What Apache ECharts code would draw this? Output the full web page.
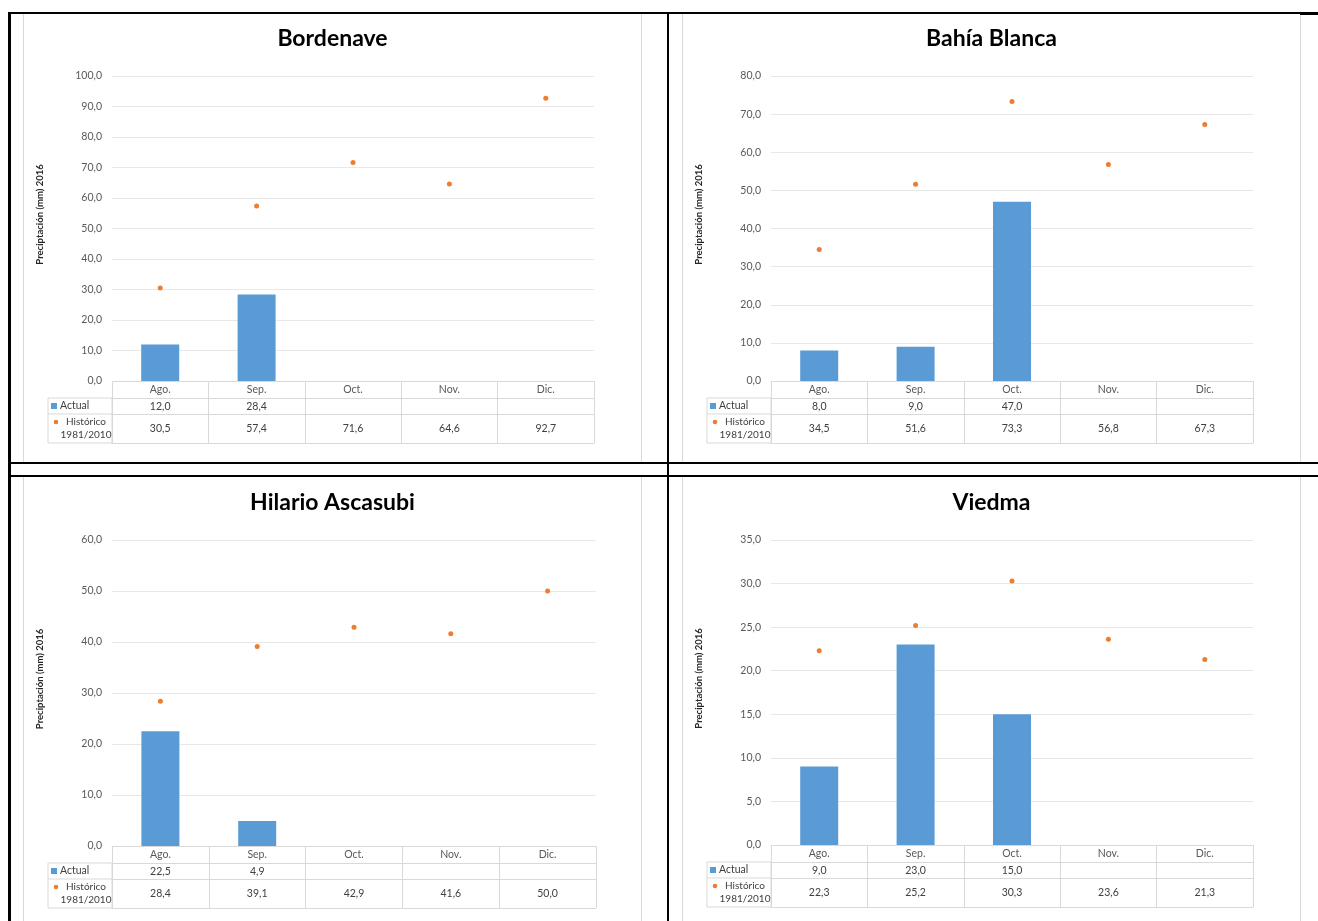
<!DOCTYPE html>
<html><head><meta charset="utf-8">
<script src="https://cdn.jsdelivr.net/npm/echarts@6/dist/echarts.min.js"></script>
<style>
html,body{margin:0;padding:0;background:#fff;width:1318px;height:921px;overflow:hidden;position:relative}
.bl{position:absolute;background:#000;z-index:10}
.box{position:absolute;border:1px solid #d9d9d9;box-sizing:border-box;background:#fff}
</style></head><body>
<div class="box" id="c0" style="left:23px;top:12px;width:619px;height:451px"></div>
<div class="box" id="c1" style="left:682px;top:12px;width:619px;height:451px"></div>
<div class="box" id="c2" style="left:23px;top:476px;width:619px;height:447px"></div>
<div class="box" id="c3" style="left:682px;top:476px;width:619px;height:447px"></div>
<div class="bl" style="left:8px;top:12px;width:1310px;height:2px"></div>
<div class="bl" style="left:1300px;top:12px;width:18px;height:3px"></div>
<div class="bl" style="left:8px;top:12px;width:3px;height:909px"></div>
<div class="bl" style="left:667px;top:12px;width:2px;height:909px"></div>
<div class="bl" style="left:8px;top:462px;width:1310px;height:2px"></div>
<div class="bl" style="left:8px;top:475px;width:1310px;height:2px"></div>
<script>
const categories = ['Ago.', 'Sep.', 'Oct.', 'Nov.', 'Dic.'];
const stationNames = ['Bordenave', 'Bahía Blanca', 'Hilario Ascasubi', 'Viedma'];
const seriesActualName = 'Actual';
const seriesHistName = 'Histórico\n1981/2010';
const yAxisTitle = 'Preciptación (mm) 2016';

const bordenaveActual = [12.0, 28.4, null, null, null];
const bordenaveHist = [30.5, 57.4, 71.6, 64.6, 92.7];
const bahiaActual = [8.0, 9.0, 47.0, null, null];
const bahiaHist = [34.5, 51.6, 73.3, 56.8, 67.3];
const hilarioActual = [22.5, 4.9, null, null, null];
const hilarioHist = [28.4, 39.1, 42.9, 41.6, 50.0];
const viedmaActual = [9.0, 23.0, 15.0, null, null];
const viedmaHist = [22.3, 25.2, 30.3, 23.6, 21.3];

const yMaxes = [100, 80, 60, 35];
const yIntervals = [10, 10, 10, 5];

const FONT = 'Lato, "Noto Sans", sans-serif';
const fmt = v => (v == null ? '' : v.toFixed(1).replace('.', ','));

function build(title, actual, hist, ymax, yint, g) {
  const tableTop = g.top + g.height;
  const lineC = '#d9d9d9';
  const base = {
    type: 'category', data: categories, gridIndex: 0, position: 'bottom',
    axisLine: { show: true, lineStyle: { color: lineC, width: 1 } },
    splitLine: { show: false }
  };
  const lx = g.left - 64;
  return {
    animation: false,
    title: {
      text: title, left: 'center', top: 9,
      textStyle: { fontFamily: FONT, fontSize: 23, fontWeight: 'bold', color: '#000' }
    },
    grid: { left: g.left, top: g.top, width: g.width, height: g.height },
    xAxis: [
      Object.assign({}, base, {
        axisTick: { show: true, interval: 0, length: 17, lineStyle: { color: lineC } },
        axisLabel: { margin: 3, fontSize: 10.5, color: '#595959', fontFamily: FONT, interval: 0 }
      }),
      Object.assign({}, base, {
        offset: 17,
        axisTick: { show: true, interval: 0, length: 16, lineStyle: { color: lineC } },
        axisLabel: { margin: 3, fontSize: 10.5, color: '#404040', fontFamily: FONT, interval: 0,
          formatter: (v, i) => fmt(actual[i]) }
      }),
      Object.assign({}, base, {
        offset: 33,
        axisTick: { show: true, interval: 0, length: 29, lineStyle: { color: lineC } },
        axisLabel: { margin: 9, fontSize: 10.5, color: '#404040', fontFamily: FONT, interval: 0,
          formatter: (v, i) => fmt(hist[i]) }
      }),
      Object.assign({}, base, {
        offset: 62,
        axisTick: { show: false },
        axisLabel: { show: false }
      })
    ],
    yAxis: {
      type: 'value', min: 0, max: ymax, interval: yint,
      axisLine: { show: false }, axisTick: { show: false },
      axisLabel: { margin: 10, fontSize: 10.5, color: '#595959', fontFamily: FONT, formatter: fmt },
      splitLine: { lineStyle: { color: '#e8e8e8', width: 1 } }
    },
    series: [
      { name: seriesActualName, type: 'bar', data: actual, barWidth: 38,
        itemStyle: { color: '#5B9BD5' }, xAxisIndex: 0 },
      { name: seriesHistName, type: 'scatter', data: hist, symbolSize: 5,
        itemStyle: { color: '#ED7D31', opacity: 1 }, xAxisIndex: 0 }
    ],
    graphic: [
      { type: 'text', x: 16, y: g.top + g.height / 2 - 14, rotation: Math.PI / 2,
        style: { text: yAxisTitle, font: 'bold 9.5px ' + FONT, fill: '#262626',
          textAlign: 'center', textVerticalAlign: 'middle' } },
      { type: 'rect', shape: { x: lx, y: tableTop + 17, width: 64, height: 45 },
        style: { fill: null, stroke: lineC, lineWidth: 1 } },
      { type: 'line', shape: { x1: lx, y1: tableTop + 33, x2: g.left, y2: tableTop + 33 },
        style: { stroke: lineC, lineWidth: 1 } },
      { type: 'rect', shape: { x: lx + 3, y: tableTop + 22, width: 6, height: 6 },
        style: { fill: '#5B9BD5' } },
      { type: 'text', x: lx + 12, y: tableTop + 25,
        style: { text: seriesActualName, font: '10.5px ' + FONT, fill: '#404040',
          textVerticalAlign: 'middle' } },
      { type: 'circle', shape: { cx: lx + 8, cy: tableTop + 41, r: 2.3 },
        style: { fill: '#ED7D31' } },
      { type: 'text', x: lx + 38, y: tableTop + 47,
        style: { text: seriesHistName, font: '10px ' + FONT, fill: '#404040',
          textAlign: 'center', textVerticalAlign: 'middle', lineHeight: 13 } }
    ]
  };
}

const actuals = [bordenaveActual, bahiaActual, hilarioActual, viedmaActual];
const hists = [bordenaveHist, bahiaHist, hilarioHist, viedmaHist];
const grids = [
  { left: 88, top: 63, width: 482, height: 305 },
  { left: 88, top: 63, width: 482, height: 305 },
  { left: 88, top: 63, width: 484, height: 306 },
  { left: 88, top: 63, width: 482, height: 305 }
];
for (let i = 0; i < 4; i++) {
  const ch = echarts.init(document.getElementById('c' + i), null, { renderer: 'canvas' });
  ch.setOption(build(stationNames[i], actuals[i], hists[i], yMaxes[i], yIntervals[i], grids[i]));
}
</script>
</body></html>
